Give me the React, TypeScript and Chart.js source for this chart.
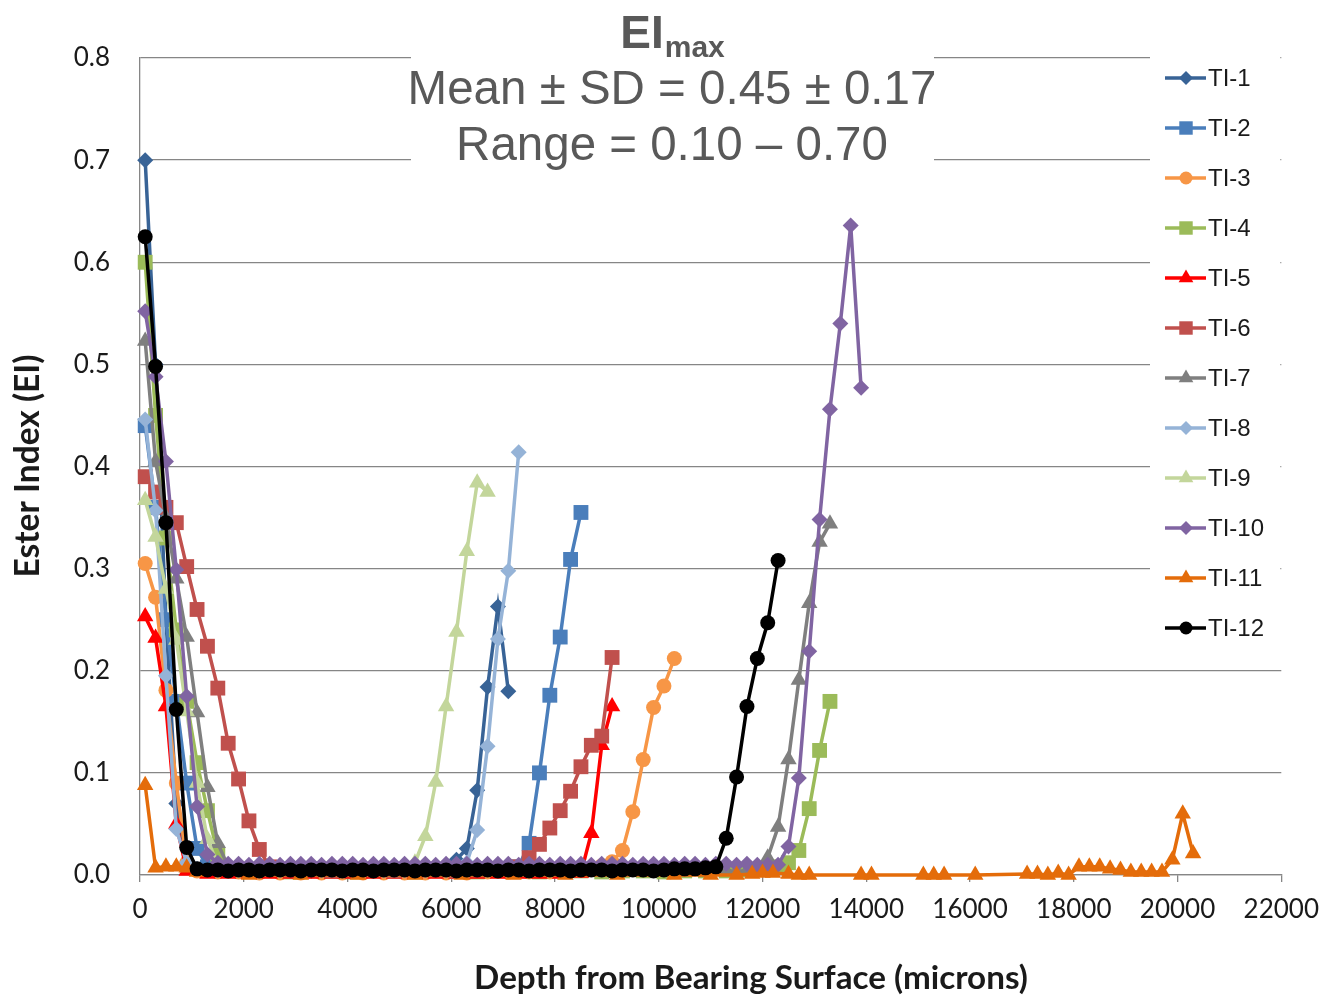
import React, { useEffect, useRef } from 'react';
import { Chart, registerables } from 'chart.js';

Chart.register(...registerables);

// ---------------- data (depth in microns, Ester Index) ----------------
const ti1Depth = [100, 300, 500, 700, 900, 1300, 1700, 2100, 2500, 2900, 3300, 3700, 4100, 4500, 4900, 5300, 5700, 5900, 6100, 6300, 6500, 6700, 6900, 7100];
const ti1EI = [0.70, 0.50, 0.25, 0.07, 0.012, 0.005, 0.005, 0.004, 0.005, 0.005, 0.004, 0.005, 0.005, 0.004, 0.005, 0.005, 0.006, 0.007, 0.015, 0.026, 0.083, 0.184, 0.263, 0.180];

const ti2Depth = [100, 300, 500, 700, 900, 1100, 1300, 1700, 2100, 2500, 2900, 3300, 3700, 4100, 4500, 4900, 5300, 5700, 6100, 6500, 6900, 7300, 7500, 7700, 7900, 8100, 8300, 8500];
const ti2EI = [0.44, 0.36, 0.25, 0.17, 0.09, 0.026, 0.008, 0.006, 0.005, 0.005, 0.005, 0.006, 0.005, 0.005, 0.005, 0.005, 0.005, 0.005, 0.005, 0.006, 0.006, 0.008, 0.031, 0.10, 0.176, 0.233, 0.309, 0.355];

const ti3Depth = [100, 300, 500, 700, 900, 1100, 1500, 1900, 2300, 2700, 3100, 3500, 3900, 4300, 4700, 5100, 5500, 5900, 6300, 6700, 7100, 7500, 7900, 8300, 8500, 8700, 8900, 9100, 9300, 9500, 9700, 9900, 10100, 10300];
const ti3EI = [0.305, 0.272, 0.181, 0.09, 0.012, 0.004, 0.003, 0.003, 0.002, 0.002, 0.002, 0.002, 0.002, 0.002, 0.002, 0.002, 0.002, 0.002, 0.002, 0.003, 0.003, 0.003, 0.003, 0.004, 0.005, 0.006, 0.009, 0.013, 0.024, 0.062, 0.113, 0.164, 0.185, 0.212];

const ti4Depth = [100, 300, 500, 700, 900, 1100, 1300, 1500, 1700, 2100, 2500, 2900, 3300, 3700, 4100, 4500, 4900, 5300, 5700, 6100, 6500, 6900, 7300, 7700, 8100, 8500, 8900, 9300, 9700, 10100, 10500, 10900, 11300, 11700, 12100, 12300, 12500, 12700, 12900, 13100, 13300];
const ti4EI = [0.60, 0.45, 0.33, 0.24, 0.17, 0.11, 0.063, 0.02, 0.006, 0.004, 0.004, 0.003, 0.004, 0.004, 0.003, 0.004, 0.004, 0.003, 0.004, 0.004, 0.003, 0.004, 0.004, 0.003, 0.004, 0.004, 0.003, 0.004, 0.004, 0.003, 0.004, 0.004, 0.004, 0.005, 0.006, 0.008, 0.012, 0.024, 0.065, 0.122, 0.170];

const ti5Depth = [100, 300, 500, 700, 900, 1300, 1700, 2100, 2500, 2900, 3300, 3700, 4100, 4500, 4900, 5300, 5700, 6100, 6500, 6900, 7300, 7700, 8100, 8500, 8700, 8900, 9100];
const ti5EI = [0.253, 0.232, 0.165, 0.05, 0.004, 0.001, 0.001, 0.001, 0.001, 0.001, 0.001, 0.001, 0.001, 0.001, 0.001, 0.001, 0.001, 0.001, 0.001, 0.001, 0.001, 0.001, 0.001, 0.002, 0.041, 0.127, 0.165];

const ti6Depth = [100, 300, 500, 700, 900, 1100, 1300, 1500, 1700, 1900, 2100, 2300, 2500, 2900, 3300, 3700, 4100, 4500, 4900, 5300, 5700, 6100, 6500, 6900, 7300, 7500, 7700, 7900, 8100, 8300, 8500, 8700, 8900, 9100];
const ti6EI = [0.39, 0.375, 0.36, 0.345, 0.302, 0.26, 0.224, 0.183, 0.129, 0.094, 0.053, 0.025, 0.008, 0.005, 0.005, 0.004, 0.005, 0.005, 0.004, 0.005, 0.005, 0.004, 0.005, 0.006, 0.008, 0.017, 0.030, 0.046, 0.063, 0.082, 0.106, 0.127, 0.136, 0.213];

const ti7Depth = [100, 300, 500, 700, 900, 1100, 1300, 1500, 1700, 2100, 2500, 2900, 3300, 3700, 4100, 4500, 4900, 5300, 5700, 6100, 6500, 6900, 7300, 7700, 8100, 8500, 8900, 9300, 9700, 10100, 10500, 10900, 11300, 11700, 11900, 12100, 12300, 12500, 12700, 12900, 13100, 13300];
const ti7EI = [0.523, 0.405, 0.35, 0.29, 0.233, 0.159, 0.086, 0.031, 0.008, 0.004, 0.003, 0.003, 0.003, 0.004, 0.003, 0.003, 0.003, 0.004, 0.003, 0.003, 0.003, 0.004, 0.003, 0.003, 0.003, 0.004, 0.003, 0.003, 0.003, 0.004, 0.003, 0.003, 0.004, 0.004, 0.006, 0.017, 0.047, 0.113, 0.191, 0.266, 0.326, 0.344];

const ti8Depth = [100, 300, 500, 700, 900, 1100, 1500, 1900, 2300, 2700, 3100, 3500, 3900, 4300, 4700, 5100, 5500, 5900, 6100, 6300, 6500, 6700, 6900, 7100, 7300];
const ti8EI = [0.446, 0.357, 0.195, 0.045, 0.012, 0.006, 0.005, 0.005, 0.005, 0.005, 0.005, 0.005, 0.005, 0.005, 0.005, 0.005, 0.005, 0.005, 0.007, 0.012, 0.044, 0.126, 0.231, 0.298, 0.414];

const ti9Depth = [100, 300, 500, 700, 900, 1100, 1300, 1500, 1700, 2100, 2500, 2900, 3300, 3700, 4100, 4500, 4900, 5100, 5300, 5500, 5700, 5900, 6100, 6300, 6500, 6700];
const ti9EI = [0.367, 0.331, 0.28, 0.23, 0.16, 0.09, 0.035, 0.01, 0.005, 0.004, 0.004, 0.004, 0.004, 0.004, 0.004, 0.004, 0.004, 0.005, 0.012, 0.038, 0.091, 0.165, 0.238, 0.317, 0.384, 0.375];

const ti10Depth = [100, 300, 500, 700, 900, 1100, 1300,
  1500, 1700, 1900, 2100, 2300, 2500, 2700, 2900, 3100, 3300, 3500, 3700, 3900, 4100, 4300, 4500, 4700, 4900, 5100, 5300, 5500, 5700, 5900, 6100, 6300, 6500, 6700, 6900, 7100, 7300, 7500, 7700, 7900, 8100, 8300, 8500, 8700, 8900, 9100, 9300, 9500, 9700, 9900, 10100, 10300, 10500, 10700, 10900, 11100, 11300, 11500, 11700, 11900, 12100,
  12300, 12500, 12700, 12900, 13100, 13300, 13500, 13700, 13900];
const ti10EI = [0.552, 0.488, 0.405, 0.299, 0.175, 0.067, 0.02,
  0.012, 0.011, 0.011, 0.010, 0.011, 0.011, 0.010, 0.011, 0.011, 0.011,
  0.010, 0.011, 0.011, 0.011, 0.010, 0.011, 0.011, 0.010, 0.011, 0.011,
  0.011, 0.010, 0.011, 0.011, 0.011, 0.010, 0.011, 0.011, 0.011, 0.010,
  0.011, 0.011, 0.010, 0.011, 0.011, 0.011, 0.010, 0.011, 0.011, 0.011,
  0.010, 0.011, 0.011, 0.011, 0.010, 0.011, 0.011, 0.010, 0.011, 0.011,
  0.010, 0.011, 0.010, 0.010,
  0.010, 0.028, 0.095, 0.219, 0.348, 0.456, 0.540, 0.636, 0.477];

const ti11Depth = [100, 300, 500, 700, 900, 1100, 2100, 3100, 4200, 5300, 6200, 7200, 8200, 9200, 10300, 11000, 11500, 11800, 12000, 12200, 12500, 12700, 12900, 13900, 14100, 15100, 15300, 15500, 16100, 17100, 17300, 17500, 17700, 17900, 18100, 18300, 18500, 18700, 18900, 19100, 19300, 19500, 19700, 19900, 20100, 20300];
const ti11EI = [0.088, 0.007, 0.008, 0.008, 0.007, 0.003, 0.0, 0.0, 0.0, 0.0, 0.0, 0.0, 0.0, 0.0, 0.0, 0.0, 0.0, 0.001, 0.002, 0.002, 0.001, 0.0, 0.0, 0.0, 0.0, 0.0, 0.0, 0.0, 0.0, 0.001, 0.001, 0.0, 0.002, 0.0, 0.008, 0.008, 0.008, 0.006, 0.005, 0.003, 0.003, 0.003, 0.003, 0.015, 0.060, 0.021];

const ti12Depth = [100, 300, 500, 700, 900,
  1100, 1300, 1500, 1700, 1900, 2100, 2300, 2500, 2700, 2900, 3100, 3300, 3500, 3700, 3900, 4100, 4300, 4500, 4700, 4900, 5100, 5300, 5500, 5700, 5900, 6100, 6300, 6500, 6700, 6900, 7100, 7300, 7500, 7700, 7900, 8100, 8300, 8500, 8700, 8900, 9100, 9300, 9500, 9700, 9900, 10100, 10300, 10500, 10700, 10900, 11100,
  11300, 11500, 11700, 11900, 12100, 12300];
const ti12EI = [0.625, 0.498, 0.345, 0.162, 0.027,
  0.006, 0.005, 0.005, 0.004, 0.005, 0.005, 0.004, 0.005, 0.005, 0.005,
  0.004, 0.005, 0.005, 0.005, 0.004, 0.005, 0.005, 0.004, 0.005, 0.005,
  0.005, 0.004, 0.005, 0.005, 0.005, 0.004, 0.005, 0.005, 0.005, 0.004,
  0.005, 0.005, 0.004, 0.005, 0.005, 0.005, 0.004, 0.005, 0.005, 0.005,
  0.004, 0.005, 0.005, 0.005, 0.004, 0.005, 0.006, 0.006, 0.006, 0.007,
  0.008,
  0.036, 0.096, 0.165, 0.212, 0.247, 0.308];

const seriesNames = ['TI-1', 'TI-2', 'TI-3', 'TI-4', 'TI-5', 'TI-6', 'TI-7', 'TI-8', 'TI-9', 'TI-10', 'TI-11', 'TI-12'];
const seriesDepths = [ti1Depth, ti2Depth, ti3Depth, ti4Depth, ti5Depth, ti6Depth, ti7Depth, ti8Depth, ti9Depth, ti10Depth, ti11Depth, ti12Depth];
const seriesValues = [ti1EI, ti2EI, ti3EI, ti4EI, ti5EI, ti6EI, ti7EI, ti8EI, ti9EI, ti10EI, ti11EI, ti12EI];
const seriesColors = ['#386396', '#4A7EBB', '#F79646', '#9BBB59', '#FF0000', '#C0504D', '#7F7F7F', '#95B3D7', '#C3D69B', '#8064A2', '#E46C0A', '#000000'];
const seriesMarkers = ['rectRot', 'rect', 'circle', 'rect', 'triangle', 'rect', 'triangle', 'rectRot', 'triangle', 'rectRot', 'triangle', 'circle'];

const titleMain = 'EI';
const titleSub = 'max';
const titleLine2 = 'Mean \u00B1 SD = 0.45 \u00B1 0.17';
const titleLine3 = 'Range = 0.10 \u2013 0.70';
const xAxisTitle = 'Depth from Bearing Surface (microns)';
const yAxisTitle = 'Ester Index (EI)';

const markerRadius: Record<string, number> = { rectRot: 8, rect: 10.5, circle: 7.5, triangle: 9.5 };
const tickFont = 'Lato, "Liberation Sans", Arial, sans-serif';
const titleFont = '"Liberation Sans", Arial, sans-serif';

function drawMarker(ctx: CanvasRenderingContext2D, style: string, x: number, y: number, r: number, color: string) {
  ctx.fillStyle = color;
  ctx.beginPath();
  if (style === 'circle') {
    ctx.arc(x, y, r, 0, Math.PI * 2);
  } else if (style === 'rect') {
    const s = r * Math.SQRT1_2;
    ctx.rect(x - s, y - s, 2 * s, 2 * s);
  } else if (style === 'rectRot') {
    ctx.moveTo(x - r, y);
    ctx.lineTo(x, y - r);
    ctx.lineTo(x + r, y);
    ctx.lineTo(x, y + r);
    ctx.closePath();
  } else {
    ctx.moveTo(x, y - r);
    ctx.lineTo(x + 0.866 * r, y + 0.5 * r);
    ctx.lineTo(x - 0.866 * r, y + 0.5 * r);
    ctx.closePath();
  }
  ctx.fill();
}

function fitFont(ctx: CanvasRenderingContext2D, text: string, family: string, weight: string, targetWidth: number) {
  ctx.font = `${weight} 100px ${family}`;
  const w = ctx.measureText(text).width;
  return (100 * targetWidth) / w;
}

const overlayPlugin = {
  id: 'overlay',
  afterDraw(chart: any) {
    const ctx: CanvasRenderingContext2D = chart.ctx;
    const area = chart.chartArea;
    ctx.save();

    // title block
    ctx.fillStyle = '#ffffff';
    ctx.fillRect(411, 0, 523, 168);
    ctx.fillStyle = '#595959';
    ctx.textBaseline = 'alphabetic';
    ctx.textAlign = 'left';
    ctx.font = `bold 46px ${titleFont}`;
    const w1 = ctx.measureText(titleMain).width;
    ctx.font = `bold 30px ${titleFont}`;
    const w2 = ctx.measureText(titleSub).width;
    const cx = 672;
    const sx = cx - (w1 + w2) / 2;
    ctx.font = `bold 46px ${titleFont}`;
    ctx.fillText(titleMain, sx, 48);
    ctx.font = `bold 30px ${titleFont}`;
    ctx.fillText(titleSub, sx + w1 + 1, 57);
    ctx.textAlign = 'center';
    ctx.font = `47.5px ${titleFont}`;
    ctx.fillText(titleLine2, cx, 104);
    ctx.fillText(titleLine3, cx, 160);

    // legend
    ctx.fillStyle = '#ffffff';
    ctx.fillRect(1150, 52, area.right - 1 - 1150, 604);
    ctx.textAlign = 'left';
    ctx.textBaseline = 'middle';
    seriesNames.forEach((name, i) => {
      const y = 78 + 50 * i;
      ctx.strokeStyle = seriesColors[i];
      ctx.lineWidth = 3.5;
      ctx.beginPath();
      ctx.moveTo(1165, y);
      ctx.lineTo(1206, y);
      ctx.stroke();
      drawMarker(ctx, seriesMarkers[i], 1186, y, markerRadius[seriesMarkers[i]] - 1, seriesColors[i]);
      ctx.fillStyle = '#1a1a1a';
      ctx.font = `24px ${titleFont}`;
      ctx.fillText(name, 1208, y + 1);
    });

    // axis titles
    ctx.fillStyle = '#1a1a1a';
    ctx.textAlign = 'center';
    ctx.textBaseline = 'middle';
    const xs = fitFont(ctx, xAxisTitle, tickFont, 'bold', 554);
    ctx.font = `bold ${xs}px ${tickFont}`;
    ctx.fillText(xAxisTitle, 751, 978);
    const ys = fitFont(ctx, yAxisTitle, tickFont, 'bold', 223);
    ctx.font = `bold ${ys}px ${tickFont}`;
    ctx.translate(28, 466);
    ctx.rotate(-Math.PI / 2);
    ctx.fillText(yAxisTitle, 0, 0);
    ctx.restore();
  },
};

export default function App() {
  const canvasRef = useRef<HTMLCanvasElement | null>(null);

  useEffect(() => {
    document.body.style.margin = '0';
    document.body.style.overflow = 'hidden';
    const canvas = canvasRef.current;
    if (!canvas) return;

    const datasets = seriesNames.map((name, i) => ({
      label: name,
      data: seriesDepths[i].map((d, j) => ({ x: d, y: seriesValues[i][j] })),
      borderColor: seriesColors[i],
      backgroundColor: seriesColors[i],
      pointBackgroundColor: seriesColors[i],
      pointBorderColor: seriesColors[i],
      pointBorderWidth: 0,
      pointStyle: seriesMarkers[i],
      pointRadius: markerRadius[seriesMarkers[i]],
      borderWidth: 3.5,
      tension: 0,
      clip: false,
      order: 12 - i,
    }));

    const chart = new Chart(canvas, {
      type: 'line',
      data: { datasets },
      options: {
        responsive: true,
        maintainAspectRatio: false,
        animation: false,
        events: [],
        layout: { padding: { left: 0, top: 58, right: 40, bottom: 0 } },
        plugins: {
          legend: { display: false },
          tooltip: { enabled: false },
          title: { display: false },
        },
        scales: {
          x: {
            type: 'linear',
            min: 0,
            max: 22000,
            ticks: {
              stepSize: 2000,
              autoSkip: false,
              maxRotation: 0,
              color: '#1a1a1a',
              font: { family: tickFont, size: 26 },
              padding: 12,
              callback: (v: any) => String(v),
            },
            grid: { drawOnChartArea: false, drawTicks: true, tickLength: 7, color: '#868686', lineWidth: 1.3 },
            border: { color: '#868686', width: 1.3 },
            afterFit: (s: any) => { s.height = 123; },
          },
          y: {
            type: 'linear',
            min: 0,
            max: 0.8,
            ticks: {
              stepSize: 0.1,
              color: '#1a1a1a',
              font: { family: tickFont, size: 26 },
              padding: 30,
              callback: (v: any) => Number(v).toFixed(1),
            },
            grid: { drawTicks: false, color: '#868686', lineWidth: 1.3 },
            border: { color: '#868686', width: 1.3 },
            afterFit: (s: any) => { s.width = 140; },
          },
        },
      } as any,
      plugins: [overlayPlugin],
    });

    return () => chart.destroy();
  }, []);

  return (
    <div style={{ width: 1331, height: 998, position: 'relative', background: '#fff' }}>
      <canvas ref={canvasRef} />
    </div>
  );
}
